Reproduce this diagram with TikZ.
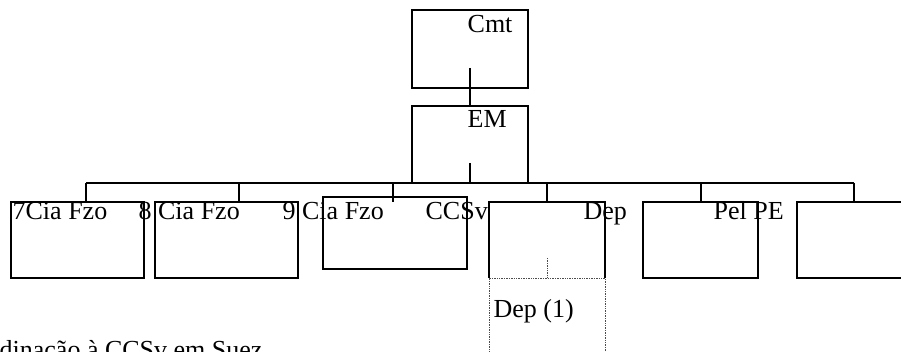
\documentclass[tikz,border=0pt]{standalone}
\usepackage{fontspec}
\setmainfont{Liberation Serif}
\begin{document}
\begin{tikzpicture}[x=1pt,y=-1pt,line width=1.3pt,
  box/.style={draw,inner sep=0pt,outer sep=0pt,minimum width=144pt,minimum height=76pt},
  lbl/.style={anchor=base west,inner sep=0pt,font=\fontsize{26}{30}\selectfont}]
\useasboundingbox (0,0) rectangle (901,352);
\node[box,minimum width=116pt,minimum height=78pt] (cmt) at (470,49) {};
\node[lbl] (tcmt) at (467,33) {Cmt};
\node[box,minimum width=116pt,minimum height=77pt] (em) at (470,144.5) {};
\node[lbl] (tem) at (467,128) {EM};
\node[box,minimum width=133pt] (f7) at (77.5,240) {};
\node[box,minimum width=143pt] (f8) at (226.5,240) {};
\node[box,minimum height=72pt] (f9) at (395,233) {};
\node[box,draw=none,minimum width=116pt] (dep) at (547,240) {};
\node[box,minimum width=115pt] (pel) at (700.5,240) {};
\node[box] (res) at (869,240) {};
\node[draw=black!70,densely dotted,line width=0.7pt,inner sep=0pt,minimum width=116pt,minimum height=110pt] (dep1) at (547,333) {};
\draw (dep.south west) |- (dep.north east) -- (dep.south east);
% textos
\node[lbl] (t7) at (12,220) {7Cia Fzo};
\node[lbl] (t8) at (138,220) {8 Cia Fzo};
\node[lbl] (t9) at (282,220) {9 Cia Fzo};
\node[lbl] (tccsv) at (425,220) {CCSv};
\node[lbl] (tdep) at (583,220) {Dep};
\node[lbl] (tpel) at (713,220) {Pel PE};
\node[lbl] (tdep1) at (493,317) {Dep (1)};
\node[lbl] (tsuez) at (-1,358) {dinação à CCSv em Suez};
% ligacoes
\coordinate (c1) at (470,68);
\coordinate (c2) at (470,163);
\coordinate (c3) at (393,202);
\coordinate (c4) at (547,258);
\coordinate (b1) at (86,183);
\coordinate (b2) at (239,183);
\coordinate (b3) at (393,183);
\coordinate (b4) at (547,183);
\coordinate (b5) at (701,183);
\coordinate (b6) at (854,183);
\draw (c1) -- (em.north);
\draw (c2) -- (em.south);
\draw (b1) -- (b6);
\draw (b1) -- (b1 |- f7.north);
\draw (b2) -- (b2 |- f8.north);
\draw (b3) -- (c3);
\draw (b4) -- (b4 |- dep.north);
\draw (b5) -- (b5 |- pel.north);
\draw (b6) -- (b6 |- res.north);
\draw[black!70,densely dotted,line width=0.7pt] (c4) -- (c4 |- dep1.north);
\end{tikzpicture}
\end{document}
